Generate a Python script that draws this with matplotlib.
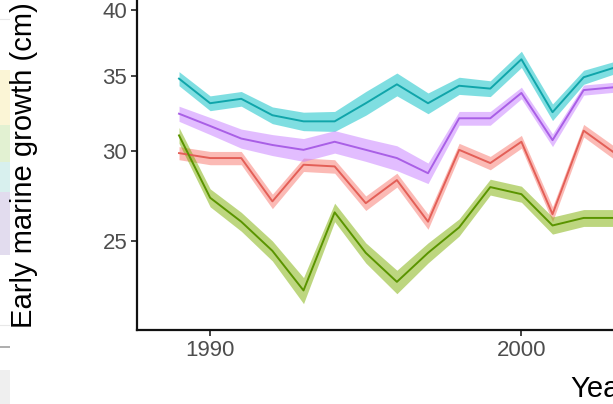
#!/usr/bin/env python3
"""Early marine growth by year, four groups with ribbons (log y axis)."""

import matplotlib
matplotlib.use("Agg")
import matplotlib.pyplot as plt
from matplotlib.ticker import FixedLocator, FixedFormatter, NullLocator

plt.rcParams["font.family"] = ["Liberation Sans", "DejaVu Sans"]

years = list(range(1989, 2004))

# mean early marine growth (cm) per group
cyan_vals = [34.8, 33.1, 33.4, 32.3, 31.9, 31.9, 33.1, 34.4, 33.1, 34.3, 34.1, 36.2, 32.5, 34.9, 35.6]
purple_vals = [32.4, 31.6, 30.8, 30.4, 30.1, 30.6, 30.1, 29.6, 28.7, 32.1, 32.1, 33.8, 30.7, 34.0, 34.2]
red_vals = [29.9, 29.6, 29.6, 27.1, 29.2, 29.1, 27.0, 28.3, 26.0, 30.1, 29.3, 30.6, 26.4, 31.3, 29.9]
green_vals = [31.0, 27.3, 26.0, 24.5, 22.6, 26.5, 24.4, 23.0, 24.4, 25.7, 27.9, 27.5, 25.8, 26.2, 26.2]

# ribbon half-widths (cm)
cyan_se = [0.5, 0.5, 0.5, 0.55, 0.6, 0.65, 0.8, 0.8, 0.7, 0.6, 0.55, 0.6, 0.55, 0.5, 0.45]
purple_se = [0.5, 0.55, 0.6, 0.65, 0.7, 0.7, 0.7, 0.75, 0.6, 0.45, 0.45, 0.4, 0.4, 0.35, 0.35]
red_se = [0.4, 0.4, 0.4, 0.4, 0.4, 0.4, 0.4, 0.4, 0.4, 0.4, 0.4, 0.4, 0.4, 0.4, 0.4]
green_se = [0.5, 0.5, 0.5, 0.5, 0.6, 0.5, 0.5, 0.55, 0.5, 0.45, 0.45, 0.45, 0.45, 0.45, 0.45]

y_ticks = [25, 30, 35, 40]
x_ticks = [1990, 2000]

series = [
    (red_vals, red_se, "#F8766D", "#E35F57"),
    (green_vals, green_se, "#7CAE00", "#5A9400"),
    (cyan_vals, cyan_se, "#00BFC4", "#10A5AA"),
    (purple_vals, purple_se, "#C77CFF", "#A95FE6"),
]

W, H = 613, 404
fig = plt.figure(figsize=(W / 100, H / 100), dpi=100)

# leftover strip of the neighbouring panel
strip = fig.add_axes([0, 0, 10 / W, 1])
strip.set_xlim(0, 1)
strip.set_ylim(H, 0)
strip.axis("off")
for top, bot, col in [(70, 125, "#FBF5D6"), (125, 162, "#E2F1D2"),
                      (162, 192, "#D8F0EE"), (192, 255, "#E2DCEE")]:
    strip.axhspan(top, bot, color=col, lw=0)
strip.axhline(347, color="#A0A0A0", lw=1.2)
strip.axhline(325, color="#E8E8E8", lw=0.8)
strip.axhline(19, color="#E8E8E8", lw=0.8)
strip.axhspan(370, H, color="#EFEFEF", lw=0)

# main panel, extends past the right edge of the crop
ax = fig.add_axes([137 / W, 74 / H, 926 / W, 330 / H])
ax.set_yscale("log")

for vals, se, fill_col, line_col in series:
    lo = [v - s for v, s in zip(vals, se)]
    hi = [v + s for v, s in zip(vals, se)]
    ax.fill_between(years, lo, hi, color=fill_col, alpha=0.5, lw=0)
    ax.plot(years, vals, color=line_col, lw=1.4)

ax.set_xlim(1987.65, 2017.4)
ax.set_ylim(20.85, 40.85)

ax.yaxis.set_major_locator(FixedLocator(y_ticks))
ax.yaxis.set_major_formatter(FixedFormatter([str(t) for t in y_ticks]))
ax.yaxis.set_minor_locator(NullLocator())
ax.set_xticks(x_ticks)

for side in ["top", "right"]:
    ax.spines[side].set_visible(False)
for side in ["left", "bottom"]:
    ax.spines[side].set_linewidth(1.6)
    ax.spines[side].set_color("#111111")

ax.tick_params(axis="both", which="major", direction="out", length=4, width=1.2,
               color="#222222", labelsize=16, labelcolor="#4D4D4D", pad=3)

ax.set_ylabel("Early marine growth (cm)", fontsize=21, color="black")
ax.yaxis.set_label_coords(-0.107, 0.5)
ax.set_xlabel("Year", fontsize=21, color="black", labelpad=10)

fig.savefig("out.png", dpi=100)
plt.close(fig)
